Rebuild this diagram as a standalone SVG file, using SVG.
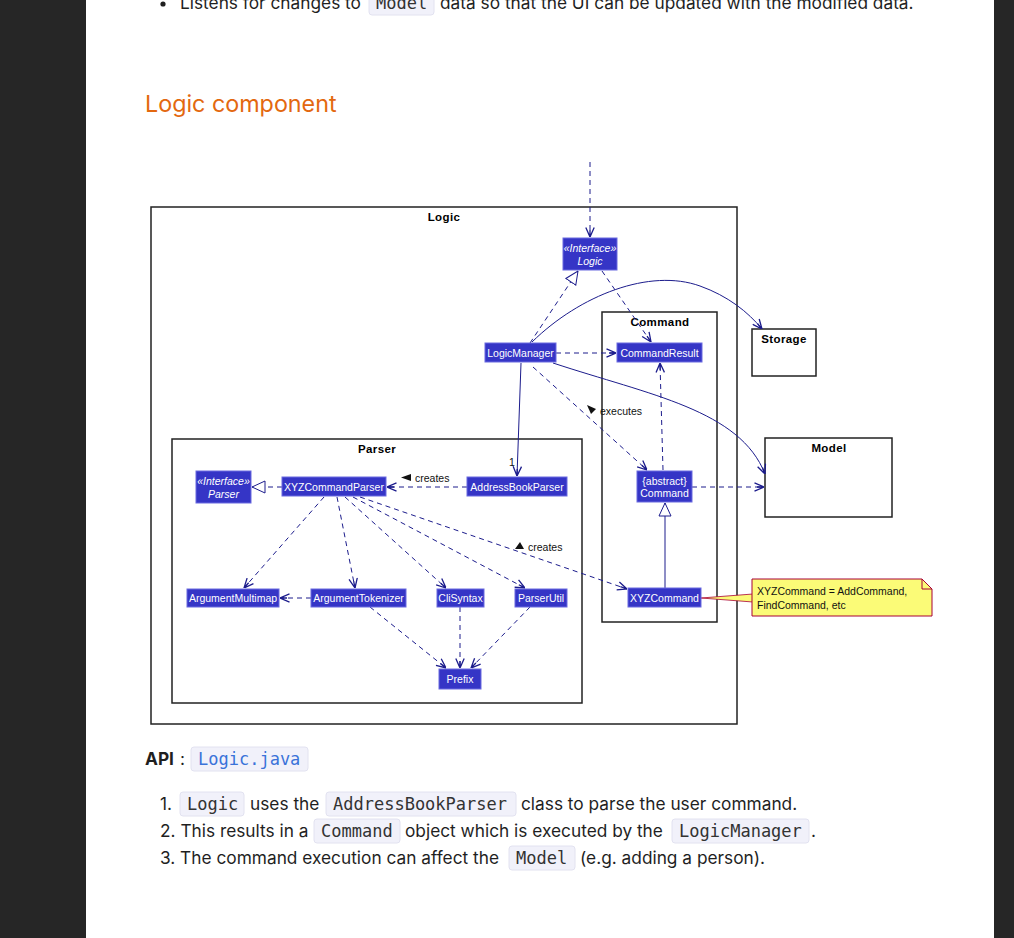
<svg xmlns="http://www.w3.org/2000/svg" width="1014" height="938" viewBox="0 0 1014 938">
<style>
.side{fill:#262626}
.body{font-family:Inter,"Noto Sans","Liberation Sans",sans-serif;font-size:17.3px;fill:#1f1f1f}
.code{font-family:"DejaVu Sans Mono","Liberation Mono",monospace;font-size:17px;fill:#333}
.cbox{fill:#f1f1fa;stroke:#e2e2f0;stroke-width:1}
.pkg{fill:none;stroke:#222;stroke-width:1.5}
.pkgl{font-family:"Liberation Sans",Arial,sans-serif;font-size:11.5px;font-weight:bold;fill:#000;text-anchor:middle;letter-spacing:0.4px}
.node rect{fill:#3535c6;stroke:#6a6ae0;stroke-width:1}
.node text{font-family:"Liberation Sans",Arial,sans-serif;font-size:10.5px;fill:#fff;text-anchor:middle}
.node text.it{font-style:italic}
.ln{fill:none;stroke:#1c1c8c;stroke-width:1}
.dash{stroke-dasharray:5,4}
.lbl{font-family:"Liberation Sans",Arial,sans-serif;font-size:10.5px;fill:#111}
</style>
<defs>
<marker id="arr" viewBox="0 0 10 10" refX="10" refY="5" markerWidth="10" markerHeight="10" markerUnits="userSpaceOnUse" orient="auto">
<path d="M0.5,0.8 L10,5 L0.5,9.2 M10,5 L3,5" fill="none" stroke="#1c1c8c" stroke-width="1.3"/>
</marker>
<marker id="tri" viewBox="0 0 14 14" refX="13.5" refY="7" markerWidth="14" markerHeight="14" markerUnits="userSpaceOnUse" orient="auto">
<path d="M0.5,1 L13.5,7 L0.5,13 Z" fill="#fff" stroke="#1c1c8c" stroke-width="1"/>
</marker>
</defs>
<rect x="0" y="0" width="1014" height="938" fill="#fff"/>
<rect class="side" x="0" y="0" width="86" height="938"/>
<rect class="side" x="994" y="0" width="20" height="938"/>

<!-- top text -->
<g id="top-text">
<circle cx="163" cy="4" r="2.6" fill="#1f1f1f"/>
<text class="body" x="180" y="9">Listens for changes to</text>
<rect class="cbox" x="369" y="-9" width="65" height="24" rx="3"/>
<text class="code" x="376" y="9">Model</text>
<text class="body" x="440" y="9">data so that the UI can be updated with the modified data.</text>
</g>

<text x="145" y="112" font-family="Inter,'Noto Sans','Liberation Sans',sans-serif" font-size="23.3" fill="#e3680f">Logic component</text>

<!-- packages -->
<g id="pkg-logic">
<rect class="pkg" x="151" y="207" width="586" height="517"/>
<text class="pkgl" x="444" y="221">Logic</text>
</g>
<g id="pkg-command">
<rect class="pkg" x="602" y="312" width="115" height="310"/>
<text class="pkgl" x="660" y="326">Command</text>
</g>
<g id="pkg-parser">
<rect class="pkg" x="172" y="439" width="410" height="264"/>
<text class="pkgl" x="377" y="453">Parser</text>
</g>
<g id="pkg-storage">
<rect class="pkg" x="752" y="329" width="64" height="47"/>
<text class="pkgl" x="784" y="343">Storage</text>
</g>
<g id="pkg-model">
<rect class="pkg" x="765" y="438" width="127" height="79"/>
<text class="pkgl" x="829" y="452">Model</text>
</g>

<!-- connectors -->
<g id="connectors">
<path class="ln dash" d="M590,162 L590,237" marker-end="url(#arr)"/>
<path class="ln dash" d="M530,343 L578,271" marker-end="url(#tri)"/>
<path class="ln dash" d="M602,271 L651,342" marker-end="url(#arr)"/>
<path class="ln dash" d="M556,353 L616,353" marker-end="url(#arr)"/>
<path class="ln" d="M532,342 C580,295 650,268 700,286 C728,296 748,312 762,329" marker-end="url(#arr)"/>
<path class="ln" d="M553,363 C650,395 740,410 765,474" marker-end="url(#arr)"/>
<path class="ln" d="M521,363 L517,476" marker-end="url(#arr)"/>
<text class="lbl" x="509" y="466">1</text>
<path class="ln dash" d="M533,367 L647,470" marker-end="url(#arr)"/>
<polygon points="587,405 596,409 591,414" fill="#111"/>
<text class="lbl" x="600" y="415">executes</text>
<path class="ln dash" d="M663,470 L660,363" marker-end="url(#arr)"/>
<path class="ln dash" d="M692,487 L764,487" marker-end="url(#arr)"/>
<path class="ln" d="M665,588 L665,503" marker-end="url(#tri)"/>
<path class="ln dash" d="M467,487 L387,487" marker-end="url(#arr)"/>
<polygon points="401,477.5 411,474 411,481" fill="#111"/>
<text class="lbl" x="415" y="482">creates</text>
<path class="ln dash" d="M282,487 L252,487" marker-end="url(#tri)"/>
<path class="ln dash" d="M324,497 L244,588" marker-end="url(#arr)"/>
<path class="ln dash" d="M337,497 L355,588" marker-end="url(#arr)"/>
<path class="ln dash" d="M345,497 L446,588" marker-end="url(#arr)"/>
<path class="ln dash" d="M353,497 L525,588" marker-end="url(#arr)"/>
<path class="ln dash" d="M360,497 L627,589" marker-end="url(#arr)"/>
<polygon points="515,549 520,542 524,549" fill="#111"/>
<text class="lbl" x="528" y="551">creates</text>
<path class="ln dash" d="M311,598 L280,598" marker-end="url(#arr)"/>
<path class="ln dash" d="M370,607 L446,668" marker-end="url(#arr)"/>
<path class="ln dash" d="M460,607 L460,668" marker-end="url(#arr)"/>
<path class="ln dash" d="M530,607 L471,668" marker-end="url(#arr)"/>
<polygon points="701,598 753,594 753,602" fill="#fbfb77" stroke="#a80036" stroke-width="0.8"/>
</g>

<!-- nodes -->
<g id="n-logic" class="node"><rect x="563" y="238" width="54" height="32"/><text class="it" x="590" y="252" font-size="9">«Interface»</text><text class="it" x="590" y="265">Logic</text></g>
<g id="n-logicmanager" class="node"><rect x="485" y="343" width="71" height="19"/><text x="520.5" y="356.5">LogicManager</text></g>
<g id="n-commandresult" class="node"><rect x="617" y="343" width="85" height="19"/><text x="659.5" y="356.5">CommandResult</text></g>
<g id="n-addressbookparser" class="node"><rect x="467" y="477" width="100" height="19"/><text x="517" y="490.5">AddressBookParser</text></g>
<g id="n-xyzcommandparser" class="node"><rect x="282" y="477" width="104" height="19"/><text x="334" y="490.5">XYZCommandParser</text></g>
<g id="n-parser" class="node"><rect x="196" y="471" width="55" height="32"/><text class="it" x="223.5" y="485" font-size="9">«Interface»</text><text class="it" x="223.5" y="498">Parser</text></g>
<g id="n-command" class="node"><rect x="637" y="471" width="55" height="31"/><text x="664.5" y="484.5">{abstract}</text><text x="664.5" y="496.5">Command</text></g>
<g id="n-xyzcommand" class="node"><rect x="628" y="588" width="73" height="19"/><text x="664.5" y="601.5">XYZCommand</text></g>
<g id="n-argumentmultimap" class="node"><rect x="187" y="589" width="92" height="18"/><text x="233" y="601.5">ArgumentMultimap</text></g>
<g id="n-argumenttokenizer" class="node"><rect x="311" y="589" width="95" height="18"/><text x="358.5" y="601.5">ArgumentTokenizer</text></g>
<g id="n-clisyntax" class="node"><rect x="437" y="589" width="47" height="18"/><text x="460.5" y="601.5">CliSyntax</text></g>
<g id="n-parserutil" class="node"><rect x="515" y="589" width="52" height="18"/><text x="541" y="601.5">ParserUtil</text></g>
<g id="n-prefix" class="node"><rect x="439" y="669" width="42" height="20"/><text x="460" y="683">Prefix</text></g>
<g id="n-note">
<path d="M752,579 L922,579 L932,589 L932,616 L752,616 Z" fill="#fbfb77" stroke="#a80036" stroke-width="1"/>
<path d="M922,579 L922,589 L932,589" fill="none" stroke="#a80036" stroke-width="1"/>
<text class="lbl" x="757" y="595" font-size="10">XYZCommand = AddCommand,</text>
<text class="lbl" x="757" y="609" font-size="10">FindCommand, etc</text>
</g>

<!-- bottom text -->
<g id="bottom-text">
<text class="body" x="145" y="765" font-weight="bold">API</text>
<text class="body" x="180" y="765">:</text>
<rect class="cbox" x="191" y="747" width="117" height="24" rx="3"/>
<text class="code" x="198" y="765" style="fill:#3a73d9">Logic.java</text>

<text class="body" x="160" y="810">1.</text>
<rect class="cbox" x="180" y="792" width="64" height="24" rx="3"/>
<text class="code" x="187" y="810">Logic</text>
<text class="body" x="250" y="810">uses the</text>
<rect class="cbox" x="326" y="792" width="190" height="24" rx="3"/>
<text class="code" x="333" y="810">AddressBookParser</text>
<text class="body" x="521" y="810">class to parse the user command.</text>

<text class="body" x="160" y="837">2. This results in a</text>
<rect class="cbox" x="314" y="819" width="86" height="24" rx="3"/>
<text class="code" x="321" y="837">Command</text>
<text class="body" x="405" y="837">object which is executed by the</text>
<rect class="cbox" x="672" y="819" width="137" height="24" rx="3"/>
<text class="code" x="679" y="837">LogicManager</text>
<text class="body" x="811" y="837">.</text>

<text class="body" x="160" y="864">3. The command execution can affect the</text>
<rect class="cbox" x="509" y="846" width="66" height="24" rx="3"/>
<text class="code" x="516" y="864">Model</text>
<text class="body" x="580" y="864">(e.g. adding a person).</text>
</g>
</svg>
